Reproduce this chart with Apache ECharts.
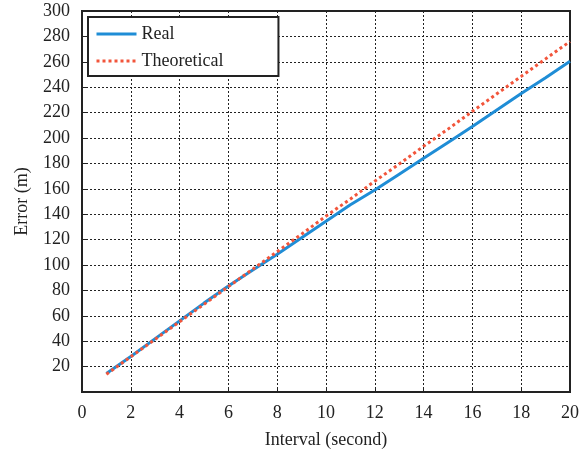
<!DOCTYPE html>
<html>
<head>
<meta charset="utf-8">
<script src="https://cdn.jsdelivr.net/npm/echarts@6/dist/echarts.min.js"></script>
<style>html,body{margin:0;padding:0;background:#fff;}#c{width:584px;height:450px;}</style>
</head>
<body>
<div id="c"></div>
<script>
const intervals = [1,2,3,4,5,6,7,8,9,10,11,12,13,14,15,16,17,18,19,20];
const realErr = [14.5,28,42,56,70,83.5,96,108.5,121.5,134.5,147.5,159,171.5,184,196.5,209,222,235,247.5,260.5];
const theoErr = [14,27.8,41.5,55.3,69,83,96.7,110.5,124.3,138.5,152,166,179.5,193.5,207,221,234.8,248.5,262.3,276];
const xTicks = [0,2,4,6,8,10,12,14,16,18,20];
const yTicks = [20,40,60,80,100,120,140,160,180,200,220,240,260,280,300];

const font = 'Liberation Serif';
const fs = 18;
const chart = echarts.init(document.getElementById('c'));
chart.setOption({
  animation: false,
  backgroundColor: '#fff',
  grid: {left: 82, right: 14, top: 11, bottom: 58, outerBoundsMode: 'none', containLabel: false,
    show: true, borderColor: '#222', borderWidth: 2, backgroundColor: 'transparent'},
  legend: {
    left: 88, top: 17, orient: 'vertical',
    padding: [8, 55, 6, 7],
    itemGap: 9, itemWidth: 40, itemHeight: 18,
    backgroundColor: '#fff', borderColor: '#222', borderWidth: 2,
    itemStyle: {opacity: 0},
    lineStyle: {width: 3},
    textStyle: {fontFamily: font, fontSize: fs, color: '#222'},
    data: ['Real', 'Theoretical']
  },
  xAxis: {
    type: 'value', min: 0, max: 20, interval: 2,
    name: 'Interval (second)', nameLocation: 'middle', nameGap: 39,
    nameTextStyle: {fontFamily: font, fontSize: fs, color: '#222'},
    axisLine: {show: true, onZero: false, lineStyle: {color: '#222', width: 2}},
    axisTick: {show: true, inside: true, length: 5, lineStyle: {color: '#222'}},
    axisLabel: {fontFamily: font, fontSize: fs, color: '#222', margin: 12,
      customValues: xTicks},
    splitLine: {show: true, lineStyle: {color: '#222', type: [2, 2], width: 1}}
  },
  yAxis: {
    type: 'value', min: 0, max: 300, interval: 20,
    name: 'Error (m)', nameLocation: 'middle', nameGap: 51,
    nameTextStyle: {fontFamily: font, fontSize: fs, color: '#222'},
    axisLine: {show: true, onZero: false, lineStyle: {color: '#222', width: 2}},
    axisTick: {show: true, inside: true, length: 5, lineStyle: {color: '#222'}},
    axisLabel: {fontFamily: font, fontSize: fs, color: '#222', margin: 12,
      formatter: v => (yTicks.indexOf(v) >= 0 ? String(v) : '')},
    splitLine: {show: true, lineStyle: {color: '#222', type: [2, 2], width: 1}}
  },
  series: [
    {name: 'Real', type: 'line', symbol: 'none', data: intervals.map((x, i) => [x, realErr[i]]),
     lineStyle: {color: '#1f8dd6', width: 3}, itemStyle: {color: '#1f8dd6'}, z: 2},
    {name: 'Theoretical', type: 'line', symbol: 'none', data: intervals.map((x, i) => [x, theoErr[i]]),
     lineStyle: {color: '#f2553b', width: 3, type: [3, 3]}, itemStyle: {color: '#f2553b'}, z: 3}
  ]
});
</script>
</body>
</html>
